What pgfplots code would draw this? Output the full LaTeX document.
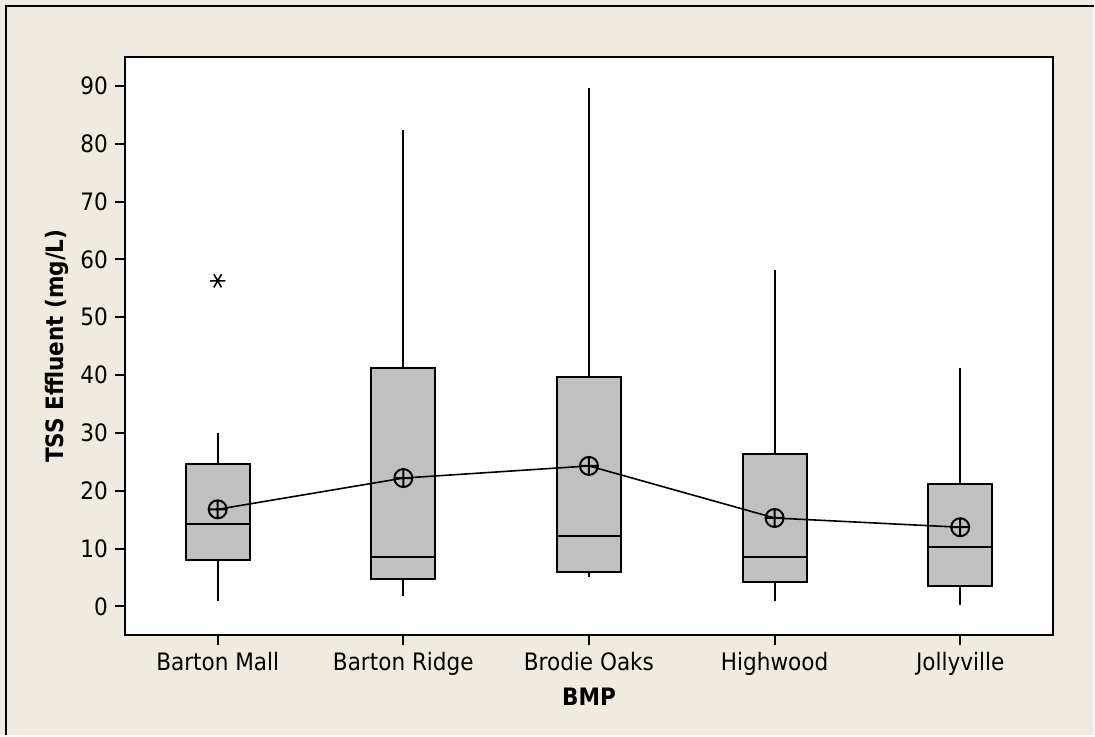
\documentclass[border=0pt]{standalone}
\usepackage{fontspec}
\setmainfont{DejaVu Sans Condensed}
\usepackage{pgfplots}
\pgfplotsset{compat=1.18}
\usepgfplotslibrary{statistics}
\definecolor{bgpanel}{RGB}{240,235,224}
\definecolor{boxgray}{RGB}{192,192,192}

\begin{document}
\begin{tikzpicture}
% panel background and the frame's left and top edges
\fill[bgpanel] (-62.5bp,-50bp) rectangle (485bp,318bp);
\draw[line width=1bp] (-59.25bp,-50bp) -- (-59.25bp,314.75bp) -- (485bp,314.75bp);
\begin{axis}[
    scale only axis,
    width=464.5bp, height=289.5bp,
    xmin=-0.5, xmax=4.5,
    ymin=-5, ymax=95,
    xtick={0,1,2,3,4},
    xticklabels={Barton Mall, Barton Ridge, Brodie Oaks, Highwood, Jollyville},
    ytick={0,10,...,90},
    tick pos=left,
    tick align=outside,
    major tick length=5bp,
    tick style={black, line width=1bp},
    axis line style={line width=1bp},
    axis background/.style={fill=white},
    /pgf/number format/assume math mode=true,
    every tick label/.append style={font=\fontsize{12bp}{14bp}\selectfont},
    xlabel={\textbf{BMP}},
    ylabel={\textbf{TSS Effluent (mg/L)}},
    xlabel style={at={(axis description cs:0.5,0)}, anchor=center, yshift=-30.5bp,
        font=\fontsize{12bp}{14bp}\selectfont},
    ylabel style={at={(axis description cs:-0.0735,0.5)}, anchor=center,
        font=\fontsize{12bp}{14bp}\selectfont},
    boxplot/draw direction=y,
    boxplot/every box/.style={draw=black, fill=boxgray, line width=1bp},
    boxplot/every whisker/.style={black, line width=1bp},
    boxplot/every median/.style={black, line width=1bp},
    boxplot/box extend=0.344,
    boxplot/whisker extend=0,
]
\addplot[black, boxplot prepared={draw direction=y, draw position=0,
    lower whisker=0.9, lower quartile=8.0, median=14.3,
    upper quartile=24.6, upper whisker=30.0}] coordinates {};
\addplot[black, boxplot prepared={draw direction=y, draw position=1,
    lower whisker=1.9, lower quartile=4.7, median=8.6,
    upper quartile=41.3, upper whisker=82.3}] coordinates {};
\addplot[black, boxplot prepared={draw direction=y, draw position=2,
    lower whisker=5.1, lower quartile=6.0, median=12.2,
    upper quartile=39.6, upper whisker=89.6}] coordinates {};
\addplot[black, boxplot prepared={draw direction=y, draw position=3,
    lower whisker=0.9, lower quartile=4.3, median=8.5,
    upper quartile=26.3, upper whisker=58.1}] coordinates {};
\addplot[black, boxplot prepared={draw direction=y, draw position=4,
    lower whisker=0.2, lower quartile=3.6, median=10.2,
    upper quartile=21.1, upper whisker=41.3}] coordinates {};
% outlier
\addplot[only marks, mark=asterisk, mark size=3.8bp,
    mark options={black, line width=0.8bp, rotate=90}] coordinates {(0,56.3)};
% mean connect line
\addplot[black, line width=0.8bp, mark=oplus, mark size=4.5bp,
    mark options={solid, line width=1bp, draw=black, fill=boxgray}]
    coordinates {(0,16.8) (1,22.2) (2,24.3) (3,15.3) (4,13.7)};
\end{axis}
\end{tikzpicture}
\end{document}
